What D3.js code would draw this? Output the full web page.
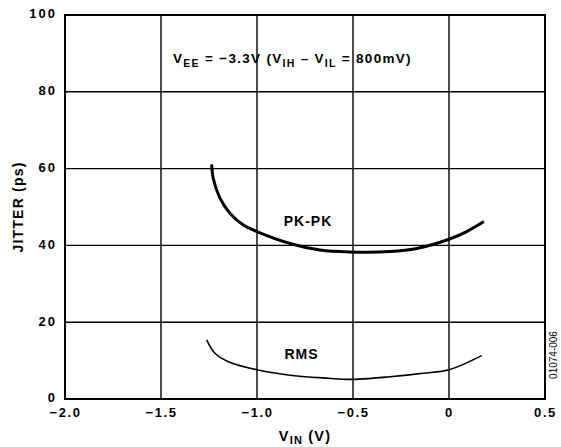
<!DOCTYPE html>
<html><head><meta charset="utf-8">
<script src="https://cdn.jsdelivr.net/npm/d3@7"></script>
<style>body{margin:0;background:#fff}svg text{font-family:"Liberation Sans",Arial,sans-serif;font-weight:bold;fill:#000}</style>
</head><body>
<svg id="c" width="561" height="447"></svg>
<script>
const xTicks = [-2.0, -1.5, -1.0, -0.5, 0, 0.5];
const xTickLabels = ["\u22122.0", "\u22121.5", "\u22121.0", "\u22120.5", "0", "0.5"];
const yTicks = [0, 20, 40, 60, 80, 100];
const pkpkV = [-1.236, -1.228, -1.193, -1.141, -1.071, -1.0, -0.828, -0.672, -0.52, -0.307, -0.168, 0.0, 0.092, 0.182];
const pkpkJ = [61.1, 57.5, 52.3, 48.4, 45.3, 43.6, 40.5, 38.8, 38.3, 38.4, 39.2, 41.6, 43.6, 46.2];
const rmsV = [-1.262, -1.219, -1.149, -1.0, -0.837, -0.629, -0.52, -0.307, -0.134, 0.005, 0.170];
const rmsJ = [15.4, 11.9, 9.7, 7.6, 6.25, 5.4, 5.1, 5.8, 6.7, 7.7, 11.3];

const svg = d3.select("#c");
const L = 65, R = 545, T = 15, B = 399;
const x = d3.scaleLinear().domain([-2, 0.5]).range([L, R]);
const y = d3.scaleLinear().domain([0, 100]).range([B, T]);

// grid
const g = svg.append("g");
g.selectAll(".vx").data(xTicks.slice(1, -1)).enter().append("line")
  .attr("x1", d => x(d)).attr("x2", d => x(d)).attr("y1", T).attr("y2", B)
  .attr("stroke", "#000").attr("stroke-width", 1.4);
g.selectAll(".hy").data(yTicks.slice(1, -1)).enter().append("line")
  .attr("x1", L).attr("x2", R).attr("y1", d => y(d)).attr("y2", d => y(d))
  .attr("stroke", "#000").attr("stroke-width", 1.4);
svg.append("rect").attr("x", L).attr("y", T).attr("width", R - L).attr("height", B - T)
  .attr("fill", "none").attr("stroke", "#000").attr("stroke-width", 2);

// axes labels
const xAxis = d3.axisBottom(x).tickValues(xTicks).tickSize(0).tickFormat((d, i) => xTickLabels[i]);
const xa = svg.append("g").attr("transform", `translate(0,${B})`).call(xAxis);
xa.select(".domain").remove();
xa.selectAll("text").attr("dy", 0).attr("y", 17.5).attr("x", 0)
  .style("font-size", "13px").style("letter-spacing", "1.6px");
const yAxis = d3.axisLeft(y).tickValues(yTicks).tickSize(0).tickFormat(d3.format("d"));
const ya = svg.append("g").attr("transform", `translate(${L},0)`).call(yAxis);
ya.select(".domain").remove();
ya.selectAll("text").attr("x", -8).attr("dy", "0.22em")
  .style("font-size", "13px").style("letter-spacing", "2px");

// curves
const line = d3.line().x(d => x(d[0])).y(d => y(d[1])).curve(d3.curveCatmullRom);
svg.append("path").datum(pkpkV.map((v, i) => [v, pkpkJ[i]])).attr("d", line)
  .attr("fill", "none").attr("stroke", "#000").attr("stroke-width", 3);
svg.append("path").datum(rmsV.map((v, i) => [v, rmsJ[i]])).attr("d", line)
  .attr("fill", "none").attr("stroke", "#000").attr("stroke-width", 1.6);

// labels
svg.append("text").attr("x", 308).attr("y", 225.5).attr("text-anchor", "middle")
  .style("font-size", "14px").style("letter-spacing", "1px").text("PK-PK");
svg.append("text").attr("x", 301.5).attr("y", 359).attr("text-anchor", "middle")
  .style("font-size", "14px").style("letter-spacing", "1px").text("RMS");

const ann = svg.append("text").attr("x", 173).attr("y", 62.5)
  .style("font-size", "13.5px").style("letter-spacing", "1.3px");
ann.append("tspan").text("V");
ann.append("tspan").style("font-size", "10.5px").attr("dy", 4).text("EE");
ann.append("tspan").attr("dy", -4).text(" = \u22123.3V (V");
ann.append("tspan").style("font-size", "10.5px").attr("dy", 4).text("IH");
ann.append("tspan").attr("dy", -4).text(" \u2013 V");
ann.append("tspan").style("font-size", "10.5px").attr("dy", 4).text("IL");
ann.append("tspan").attr("dy", -4).text(" = 800mV)");

const xt = svg.append("text").attr("x", 305).attr("y", 440.5).attr("text-anchor", "middle")
  .style("font-size", "14.5px").style("letter-spacing", "1.2px");
xt.append("tspan").text("V");
xt.append("tspan").style("font-size", "11px").attr("dy", 3.5).text("IN");
xt.append("tspan").attr("dy", -3.5).text(" (V)");

svg.append("text").attr("transform", "translate(23,207) rotate(-90)").attr("text-anchor", "middle")
  .style("font-size", "14px").style("letter-spacing", "1.2px").text("JITTER (ps)");

svg.append("text").attr("transform", "translate(557,355) rotate(-90)").attr("text-anchor", "middle")
  .style("font-size", "10px").style("font-weight", "normal").text("01074-006");
</script>
</body></html>
